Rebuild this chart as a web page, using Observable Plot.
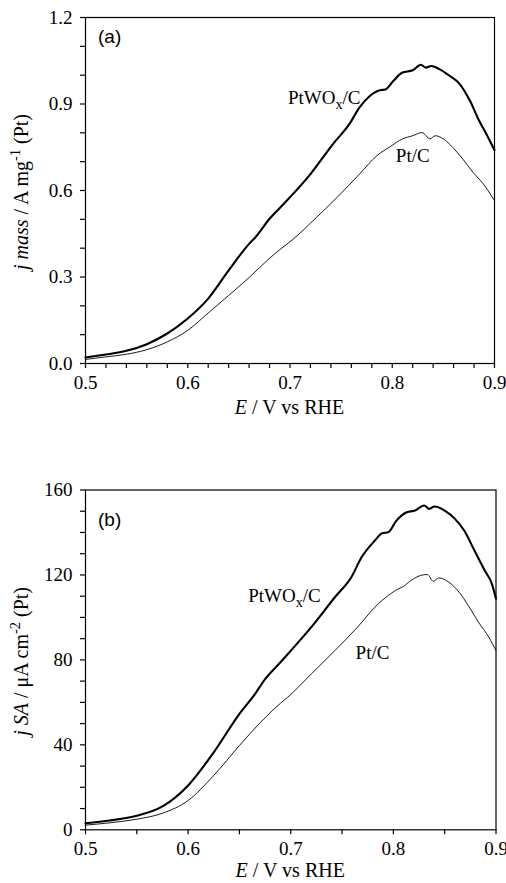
<!DOCTYPE html>
<html>
<head>
<meta charset="utf-8">
<script src="https://cdn.jsdelivr.net/npm/d3@7"></script>
<script src="https://cdn.jsdelivr.net/npm/@observablehq/plot@0.6"></script>
<style>
  html, body { margin: 0; padding: 0; background: white; }
  #wrap { position: relative; width: 506px; height: 883px; overflow: hidden; }
  #wrap svg { display: block; }
</style>
</head>
<body>
<div id="wrap"></div>
<script>
// ---------- Panel (a): mass activity ----------
const E_a_PtWOx = [0.500,0.520,0.540,0.560,0.580,0.600,0.620,0.640,0.660,0.666,0.680,0.694,0.720,0.742,0.758,0.768,0.778,0.788,0.793,0.801,0.810,0.820,0.828,0.833,0.838,0.846,0.856,0.866,0.876,0.885,0.892,0.900];
const J_a_PtWOx = [0.021,0.031,0.044,0.067,0.104,0.156,0.225,0.323,0.415,0.437,0.502,0.554,0.657,0.761,0.830,0.888,0.928,0.948,0.950,0.980,1.009,1.017,1.036,1.026,1.032,1.021,0.998,0.969,0.911,0.842,0.796,0.740];

const E_a_PtC = [0.500,0.520,0.540,0.560,0.580,0.600,0.620,0.640,0.660,0.680,0.690,0.702,0.726,0.746,0.768,0.785,0.798,0.810,0.820,0.829,0.837,0.842,0.850,0.859,0.869,0.879,0.889,0.900];
const J_a_PtC = [0.014,0.023,0.032,0.048,0.075,0.115,0.175,0.236,0.298,0.365,0.395,0.428,0.507,0.576,0.657,0.721,0.752,0.779,0.790,0.801,0.779,0.790,0.779,0.750,0.709,0.663,0.623,0.565];

// ---------- Panel (b): specific activity ----------
const E_b_PtWOx = [0.500,0.524,0.550,0.575,0.600,0.625,0.650,0.666,0.674,0.690,0.720,0.743,0.759,0.769,0.782,0.789,0.795,0.803,0.813,0.821,0.830,0.835,0.840,0.850,0.860,0.869,0.879,0.889,0.896,0.900];
const J_b_PtWOx = [3.1,4.4,6.6,11.0,20.9,36.5,54.6,64.5,70.3,78.9,95.4,109.5,118.9,128.3,136.2,139.6,140.1,145.6,149.5,150.3,152.7,151.1,152.2,150.3,146.4,140.9,131.5,122.1,115.8,108.8];

const E_b_PtC = [0.500,0.524,0.550,0.575,0.600,0.625,0.650,0.674,0.690,0.697,0.720,0.743,0.765,0.782,0.789,0.795,0.802,0.811,0.815,0.824,0.833,0.839,0.844,0.854,0.864,0.873,0.883,0.893,0.900];
const J_b_PtC = [2.2,3.3,5.0,7.8,13.8,25.6,39.7,52.3,59.6,62.4,73.4,84.4,95.4,104.8,108.0,110.3,112.7,115.0,116.6,119.3,120.2,117.0,118.6,116.6,111.9,105.6,97.7,90.7,84.4];

// ---------- Ticks ----------
const xTicksMajor = [0.5, 0.6, 0.7, 0.8, 0.9];
const xTicksMinorA = [0.52,0.54,0.56,0.58,0.62,0.64,0.66,0.68,0.72,0.74,0.76,0.78,0.82,0.84,0.86,0.88];
const yTicksMajorA = [0, 0.3, 0.6, 0.9, 1.2];
const yTicksMinorA = [0.1,0.2,0.4,0.5,0.7,0.8,1.0,1.1];
const xTicksMinorB = [0.55, 0.65, 0.75, 0.85];
const yTicksMajorB = [0, 40, 80, 120, 160];
const yTicksMinorB = [10,20,30,50,60,70,90,100,110,130,140,150];

// ---------- Labels ----------
const panelTags = ["(a)", "(b)"];
const xTitle = [{t: "E", i: true}, {t: " / V vs RHE"}];
const yTitleA = [{t: "j mass", i: true}, {t: " / A mg"}, {t: "-1", sup: true}, {t: " (Pt)"}];
const yTitleB = [{t: "j SA", i: true}, {t: " / \u03bcA cm"}, {t: "-2", sup: true}, {t: " (Pt)"}];
const seriesLabel = [{t: "PtWO"}, {t: "x", sub: true}, {t: "/C"}];
const seriesLabel2 = [{t: "Pt/C"}];

const SERIF = "'Liberation Serif', 'Times New Roman', Times, serif";
const SANS = "'Liberation Sans', Arial, sans-serif";

function rows(E, J) { return E.map((e, i) => ({E: e, j: J[i]})); }

function rich(svg, x, y, parts, {anchor = "start", rotate = 0, size = 19, family = SERIF} = {}) {
  const t = d3.select(svg).append("text")
    .attr("class", "rich")
    .attr("transform", `translate(${x},${y}) rotate(${rotate})`)
    .attr("text-anchor", anchor)
    .style("font-family", family)
    .style("font-size", size + "px")
    .attr("fill", "black");
  let shift = 0;
  for (const p of parts) {
    const s = t.append("tspan").text(p.t);
    let target = 0;
    if (p.sup) { target = -0.38 * size; s.style("font-size", (size * 0.72) + "px"); }
    if (p.sub) { target = 0.28 * size; s.style("font-size", (size * 0.75) + "px"); }
    if (target !== shift) { s.attr("dy", target - shift); shift = target; }
    if (p.i) s.style("font-style", "italic");
  }
  return t;
}

function panel(cfg) {
  const p = Plot.plot({
    width: 506,
    height: cfg.height,
    marginLeft: 85,
    marginRight: cfg.marginRight,
    marginTop: cfg.marginTop,
    marginBottom: cfg.marginBottom,
    style: {fontFamily: SERIF, fontSize: "19px", color: "black", background: "white"},
    x: {domain: [0.5, 0.9]},
    y: {domain: cfg.yDomain},
    marks: [
      Plot.axisX(cfg.xMinor, {tickSize: 5, strokeWidth: 1.2, tickFormat: () => "", label: null}),
      Plot.axisX(xTicksMajor, {tickSize: 5, strokeWidth: 1.2, tickPadding: 7, tickFormat: d3.format(".1f"), label: null, fontSize: 19}),
      Plot.axisY(cfg.yMinor, {tickSize: 5, strokeWidth: 1.2, tickFormat: () => "", label: null}),
      Plot.axisY(cfg.yMajor, {tickSize: 5, strokeWidth: 1.2, tickPadding: 8, tickFormat: cfg.yFormat, label: null, fontSize: 19}),
      Plot.line(rows(cfg.E1, cfg.J1), {x: "E", y: "j", stroke: "black", strokeWidth: 2.1, curve: "monotone-x"}),
      Plot.line(rows(cfg.E2, cfg.J2), {x: "E", y: "j", stroke: "black", strokeWidth: 0.9, curve: "monotone-x"}),
      Plot.frame({stroke: "black", strokeWidth: 1.2})
    ]
  });
  // force serif on the library's tick labels
  d3.select(p).selectAll("text:not(.rich)").style("font-family", SERIF).style("font-size", "19px");
  const sx = p.scale("x"), sy = p.scale("y");
  const [r0, r1] = sx.range, [b0, b1] = sy.range;
  rich(p, (r0 + r1) / 2, b0 + cfg.xTitleOffset, xTitle, {anchor: "middle", size: 20});
  rich(p, 28, (b0 + b1) / 2 + 2, cfg.yTitle, {anchor: "middle", rotate: -90, size: 20});
  rich(p, r0 + 13, b1 + cfg.tagOffset, [{t: cfg.tag}], {family: SANS, size: 19});
  rich(p, sx.apply(cfg.lab1[0]), sy.apply(cfg.lab1[1]), seriesLabel, {size: 19});
  rich(p, sx.apply(cfg.lab2[0]), sy.apply(cfg.lab2[1]), seriesLabel2, {size: 19});
  return p;
}

const wrap = document.getElementById("wrap");

wrap.appendChild(panel({
  height: 440, marginTop: 17, marginBottom: 77, marginRight: 12,
  yDomain: [0, 1.2], yMajor: yTicksMajorA, yMinor: yTicksMinorA, xMinor: xTicksMinorA,
  yFormat: d3.format(".1f"),
  E1: E_a_PtWOx, J1: J_a_PtWOx, E2: E_a_PtC, J2: J_a_PtC,
  yTitle: yTitleA, tag: panelTags[0], tagOffset: 26, xTitleOffset: 51,
  lab1: [0.6985, 0.90], lab2: [0.804, 0.697]
}));

wrap.appendChild(panel({
  height: 443, marginTop: 49.5, marginBottom: 53.7, marginRight: 10.5,
  yDomain: [0, 160], yMajor: yTicksMajorB, yMinor: yTicksMinorB, xMinor: xTicksMinorB,
  yFormat: d3.format("d"),
  E1: E_b_PtWOx, J1: J_b_PtWOx, E2: E_b_PtC, J2: J_b_PtC,
  yTitle: yTitleB, tag: panelTags[1], tagOffset: 36, xTitleOffset: 48,
  lab1: [0.659, 107], lab2: [0.7637, 80.2]
}));
</script>
</body>
</html>
